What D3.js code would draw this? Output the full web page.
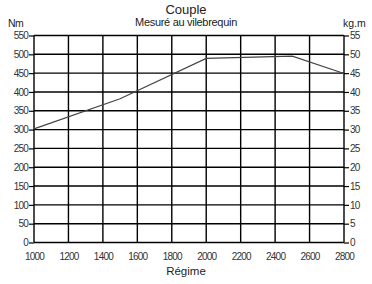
<!DOCTYPE html>
<html>
<head>
<meta charset="utf-8">
<script src="https://cdn.jsdelivr.net/npm/d3@7"></script>
<style>
body{margin:0;background:#fff;}
svg text{font-family:"Liberation Sans",Arial,sans-serif;fill:#222;}
.tick text{font-size:10px;letter-spacing:-0.8px;fill:#333;}
</style>
</head>
<body>
<div id="chart"></div>
<script>
// torque curve
const rpm = [1000, 1500, 2000, 2500, 2800];
const torqueNm = [302, 382, 489, 495, 449];
const xTicks = [1000,1200,1400,1600,1800,2000,2200,2400,2600,2800];
const nmTicks = d3.range(0, 551, 50);
const kgTicks = d3.range(0, 56, 5);

const W=372,H=284,M={top:35.5,right:28,bottom:41.5,left:34};
const svg=d3.select("#chart").append("svg").attr("width",W).attr("height",H);

const x=d3.scaleLinear().domain([1000,2800]).range([M.left,W-M.right]);
const y=d3.scaleLinear().domain([0,550]).range([H-M.bottom,M.top]);
const yk=d3.scaleLinear().domain([0,55]).range([H-M.bottom,M.top]);

// grid
svg.append("g").selectAll("line").data(nmTicks).join("line")
  .attr("x1",x(1000)).attr("x2",x(2800)).attr("y1",d=>y(d)).attr("y2",d=>y(d))
  .attr("stroke","#000").attr("stroke-width",1.4);
svg.append("g").selectAll("line").data(xTicks).join("line")
  .attr("x1",d=>x(d)).attr("x2",d=>x(d)).attr("y1",y(0)).attr("y2",y(550))
  .attr("stroke","#000").attr("stroke-width",1.4);

// axes
const left=svg.append("g").attr("transform",`translate(${M.left},0)`)
  .call(d3.axisLeft(y).tickValues(nmTicks).tickSize(5).tickPadding(1));
const right=svg.append("g").attr("transform",`translate(${W-M.right},0)`)
  .call(d3.axisRight(yk).tickValues(kgTicks).tickSize(5).tickPadding(1));
const bottom=svg.append("g").attr("transform",`translate(0,${y(0)})`)
  .call(d3.axisBottom(x).tickValues(xTicks).tickSize(0).tickPadding(10).tickFormat(d3.format("d")));
[left,right,bottom].forEach(g=>{
  g.select(".domain").remove();
  g.selectAll(".tick line").attr("stroke","#000").attr("stroke-width",1.2);
});

// curve
const line=d3.line().x((d,i)=>x(rpm[i])).y(d=>y(d));
svg.append("path").datum(torqueNm).attr("fill","none").attr("stroke","#444")
  .attr("stroke-width",1.2).attr("d",line);

// titles
svg.append("text").attr("x",186).attr("y",14).attr("text-anchor","middle").attr("font-size",13).text("Couple");
svg.append("text").attr("x",186).attr("y",26).attr("text-anchor","middle").attr("font-size",11).attr("letter-spacing",-0.3).text("Mesuré au vilebrequin");
svg.append("text").attr("x",8).attr("y",27).attr("font-size",10.5).attr("letter-spacing",-0.5).text("Nm");
svg.append("text").attr("x",343).attr("y",27).attr("font-size",10.5).text("kg.m");
svg.append("text").attr("x",186).attr("y",275).attr("text-anchor","middle").attr("font-size",11.5).text("Régime");
</script>
</body>
</html>
